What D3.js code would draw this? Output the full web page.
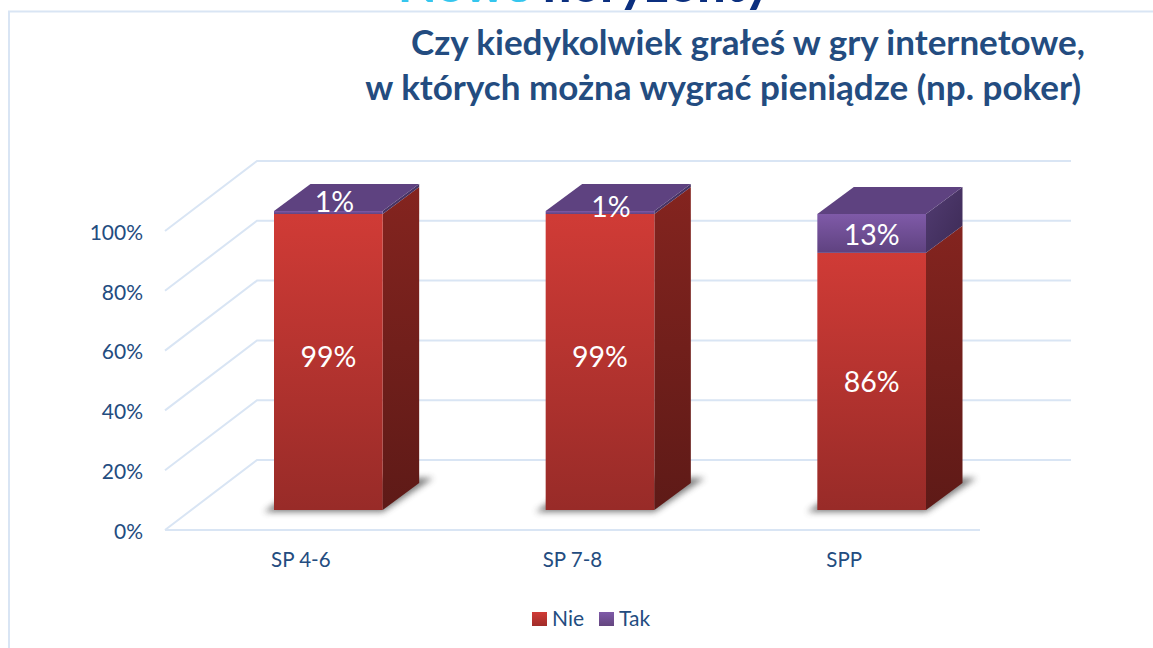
<!DOCTYPE html>
<html>
<head>
<meta charset="utf-8">
<script src="https://d3js.org/d3.v7.min.js"></script>
<style>
  html, body { margin: 0; padding: 0; background: #fff; overflow: hidden; }
  text { font-family: Lato, "Open Sans", sans-serif; }
</style>
</head>
<body>
<div id="chart"></div>
<script>
// values
const categories = ['SP 4-6', 'SP 7-8', 'SPP'];
const seriesNames = ['Nie', 'Tak'];
const nie = [99, 99, 86];
const tak = [1, 1, 13];
const yTicks = [0, 20, 40, 60, 80, 100];
const titleLines = ['Czy kiedykolwiek grałeś w gry internetowe,', 'w których można wygrać pieniądze (np. poker)'];

const w = 1153, h = 648;
const gridColor = '#d9e5f4', textColor = '#234c80';

// 3d offsets: wall depth, bar front and bar depth
const wall = { dx: 92, dy: -70 };
const barFront = { dx: 27.5, dy: -20 };
const barDepth = { dx: 36.5, dy: -27 };

// hand moved labels, like in the original: [x, y] per category
const nieNudge = [[0, -5], [0, -5], [0, 1]];
const takNudge = [[6, -10], [11, -5], [0, 2]];

const svg = d3.select('#chart').append('svg').attr('width', w).attr('height', h);
const defs = svg.append('defs');

function addGradient(id, top, bottom, x2) {
  const g = defs.append('linearGradient').attr('id', id)
    .attr('x1', 0).attr('y1', 0).attr('x2', x2 || 0).attr('y2', 1);
  g.append('stop').attr('offset', 0).attr('stop-color', top);
  g.append('stop').attr('offset', 1).attr('stop-color', bottom);
}
addGradient('frontNie', '#d03b36', '#982b28');
addGradient('sideNie', '#84241f', '#5e1a17');
addGradient('frontTak', '#7f5aa8', '#5f4280');
addGradient('sideTak', '#523c72', '#3c2a55', 1);
addGradient('legendNie', '#d03b36', '#a02c29');
addGradient('legendTak', '#7f5aa8', '#64467f');
defs.append('filter').attr('id', 'soft').attr('x', '-20%').attr('y', '-30%').attr('width', '140%').attr('height', '160%')
  .append('feGaussianBlur').attr('stdDeviation', 3);

// page frame and the cut off banner above it
svg.append('path').attr('d', 'M9,648V11.5H1153').attr('fill', 'none').attr('stroke', gridColor).attr('stroke-width', 2);
const banner = svg.append('text').attr('x', 398).attr('y', 1.5).attr('font-size', 50).attr('font-weight', 900);
banner.append('tspan').attr('fill', '#35c6ee').text('Nowe ');
banner.append('tspan').attr('fill', '#0b2f7f').text('horyzonty');

svg.selectAll('.title').data(titleLines).enter().append('text')
  .attr('class', 'title')
  .attr('x', (d, i) => i === 0 ? 1085 : 1081)
  .attr('y', (d, i) => 55 + i * 45)
  .attr('text-anchor', 'end')
  .attr('font-size', 35)
  .attr('font-weight', 700)
  .attr('fill', '#234c80')
  .text(d => d);

// scales sit on the front edge of the floor
const x = d3.scaleBand().domain(categories).range([165, 980]).paddingInner(0.6).paddingOuter(0.3);
const y = d3.scaleLinear().domain([0, 100]).range([530, 231]);

// walls
const grid = svg.append('g').attr('fill', 'none').attr('stroke', gridColor).attr('stroke-width', 2);
grid.selectAll('path').data(yTicks).enter().append('path')
  .attr('d', d => {
    const p = d3.path();
    p.moveTo(165, y(d));
    p.lineTo(165 + wall.dx, y(d) + wall.dy);
    p.lineTo(980 + wall.dx - 1, y(d) + wall.dy);
    return p.toString();
  });
grid.append('line').attr('x1', 165).attr('x2', 980).attr('y1', y(0)).attr('y2', y(0));

// axes
const yAxis = svg.append('g').attr('transform', 'translate(150,1.5)')
  .call(d3.axisLeft(y).tickValues(yTicks).tickSize(0).tickPadding(7).tickFormat(d => d + '%'));
const xAxis = svg.append('g').attr('transform', 'translate(0,' + y(0) + ')')
  .call(d3.axisBottom(x).tickSize(0).tickPadding(22));
[yAxis, xAxis].forEach(a => {
  a.select('.domain').remove();
  a.selectAll('text').attr('fill', textColor).style('font-family', 'Lato, "Open Sans", sans-serif');
});
yAxis.selectAll('text').attr('font-size', 21);
xAxis.selectAll('text').attr('font-size', 20.5);

// bars
const rows = categories.map((c, i) => ({ category: c, Nie: nie[i], Tak: tak[i] }));
const stacked = d3.stack().keys(seriesNames)(rows);
const poly = pts => d3.line()(pts) + 'Z';
const px = c => x(c) + barFront.dx;
const py = v => y(v) + barFront.dy;

// floor shadows
svg.append('g').selectAll('path').data(categories).enter().append('path')
  .attr('d', c => {
    const l = px(c), r = l + x.bandwidth(), b = py(0);
    return poly([[l - 10, b + 2], [r, b + 2], [r + barDepth.dx + 14, b + barDepth.dy - 5], [l + barDepth.dx, b + barDepth.dy - 5]]);
  })
  .attr('fill', '#444').attr('opacity', 0.7).attr('filter', 'url(#soft)');

const bar = svg.append('g').selectAll('g').data(categories).enter().append('g');
seriesNames.forEach((name, s) => {
  bar.each(function (c, i) {
    const seg = stacked[s][i];
    const l = px(c), r = l + x.bandwidth(), t = py(seg[1]), b = py(seg[0]);
    const g = d3.select(this);
    g.append('path')
      .attr('d', poly([[r, b], [r + barDepth.dx, b + barDepth.dy], [r + barDepth.dx, t + barDepth.dy], [r, t]]))
      .attr('fill', 'url(#side' + name + ')');
    g.append('rect').attr('x', l).attr('y', t).attr('width', x.bandwidth()).attr('height', b - t)
      .attr('fill', 'url(#front' + name + ')');
    if (s === seriesNames.length - 1) {
      g.append('path')
        .attr('d', poly([[l, t], [l + barDepth.dx, t + barDepth.dy], [r + barDepth.dx, t + barDepth.dy], [r, t]]))
        .attr('fill', '#5e4280');
    }
  });
});

// data labels
seriesNames.forEach((name, s) => {
  const nudge = s === 0 ? nieNudge : takNudge;
  svg.append('g').selectAll('text').data(stacked[s]).enter().append('text')
    .attr('x', (d, i) => px(categories[i]) + x.bandwidth() / 2 + nudge[i][0])
    .attr('y', (d, i) => py((d[0] + d[1]) / 2) + nudge[i][1])
    .attr('dy', '0.35em')
    .attr('text-anchor', 'middle')
    .attr('font-size', 28.5)
    .attr('fill', '#fff')
    .text(d => (d[1] - d[0]) + '%');
});

// legend
const legendX = d3.scaleOrdinal().domain(seriesNames).range([532, 599]);
const legend = svg.append('g').selectAll('g').data(seriesNames).enter().append('g')
  .attr('transform', d => 'translate(' + legendX(d) + ',612)');
legend.append('rect').attr('width', 15).attr('height', 14).attr('fill', d => 'url(#legend' + d + ')');
legend.append('text').attr('x', 20).attr('y', 14).attr('font-size', 21).attr('fill', textColor).text(d => d);
</script>
</body>
</html>
